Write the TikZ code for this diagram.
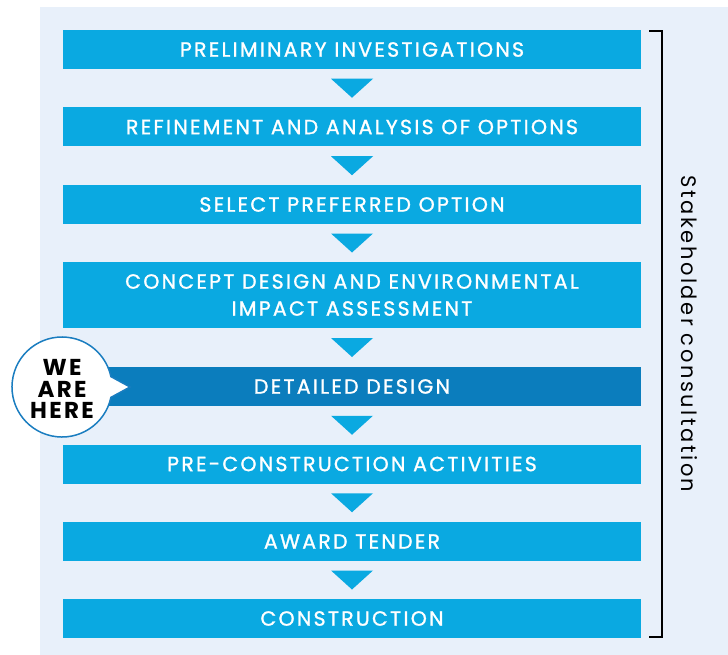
\documentclass[tikz,border=0pt]{standalone}
\usepackage{fontspec}
\setmainfont{Poppins}
\newfontfamily\gfont[LetterSpace=11,FakeBold=1.2]{Poppins}
\newfontfamily\sfont[LetterSpace=12]{Poppins}
\newfontfamily\hfont[LetterSpace=10]{Poppins}
\usetikzlibrary{shapes.geometric}
\definecolor{bgblue}{HTML}{E8F0FA}
\definecolor{boxcyan}{HTML}{0AA9E1}
\definecolor{boxdark}{HTML}{0B7DBD}
\definecolor{ringblue}{HTML}{1A7DC0}
\begin{document}
\begin{tikzpicture}[x=1pt,y=-1pt,
  stagebox/.style={fill=boxcyan,text=white,minimum width=578pt,inner sep=0pt,align=center,font=\gfont\fontsize{20.5}{23}\selectfont},
  darkbox/.style={stagebox,fill=boxdark}]
\useasboundingbox (0,0) rectangle (728,655);
\fill[bgblue] (40,7) rectangle (728,655);
% boxes
\node[stagebox,minimum height=39pt] (b1) at (352,49.5) {PRELIMINARY INVESTIGATIONS};
\node[stagebox,minimum height=39pt] (b2) at (352,127) {REFINEMENT AND ANALYSIS OF OPTIONS};
\node[stagebox,minimum height=39pt] (b3) at (352,204.5) {SELECT PREFERRED OPTION};
\node[stagebox,minimum height=66pt] (b4) at (352,295) {CONCEPT DESIGN AND ENVIRONMENTAL\\[4pt]IMPACT ASSESSMENT};
\node[darkbox,minimum height=39pt] (b5) at (352,386.5) {DETAILED DESIGN};
\node[stagebox,minimum height=39pt] (b6) at (352,464) {PRE-CONSTRUCTION ACTIVITIES};
\node[stagebox,minimum height=39pt] (b7) at (352,541.5) {AWARD TENDER};
\node[stagebox,minimum height=39pt] (b8) at (352,618.5) {CONSTRUCTION};
% arrows between boxes
\foreach \a/\b in {b1/b2,b2/b3,b3/b4,b4/b5,b5/b6,b6/b7,b7/b8}{
  \path (\a.south) -- (\b.north) coordinate[pos=0.5] (m);
  \fill[boxcyan] ([shift={(-21,-9.5)}]m) -- ([shift={(21,-9.5)}]m) -- ([shift={(0,9.5)}]m) -- cycle;
}
% bracket
\coordinate (bt) at (649,31);
\coordinate (bb) at (649,637);
\draw[line width=1.2pt] (bt) -- (662,31) -- (662,637) -- (bb);
\node[rotate=-90,font=\sfont\fontsize{21}{24}\selectfont] (sc) at (689,334) {Stakeholder consultation};
% we are here
\fill[white,draw=ringblue,line width=1.5pt] (130,387) -- (110.9,397.4) arc[start angle=12,end angle=348,radius=50] -- cycle;
\node[circle,minimum size=100pt,align=center,inner sep=0pt,font=\hfont\fontsize{23}{21.5}\selectfont\bfseries] (here) at (62,389) {WE\\ARE\\HERE};
\end{tikzpicture}
\end{document}
